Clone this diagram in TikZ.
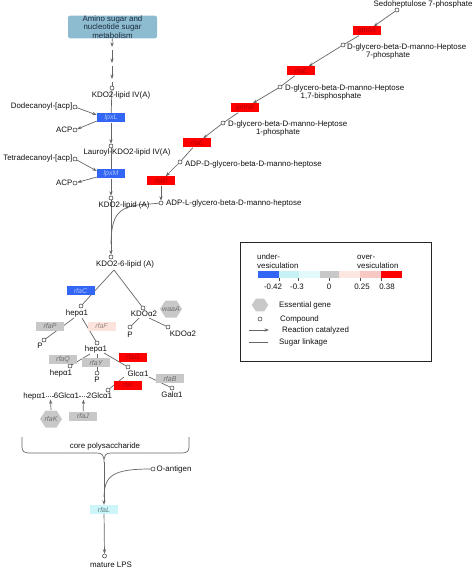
\documentclass[tikz,border=0pt]{standalone}
\usepackage{fontspec}
\setmainfont{Liberation Sans}
\usetikzlibrary{arrows.meta}
\definecolor{lnc}{HTML}{666666}
\definecolor{cpdc}{HTML}{333333}
\definecolor{bluef}{HTML}{3366F5}
\definecolor{bluet}{HTML}{A8C4FF}
\definecolor{redf}{HTML}{FF0000}
\definecolor{redt}{HTML}{B00000}
\definecolor{grayf}{HTML}{C8C8C8}
\definecolor{grayt}{HTML}{6E6E6E}
\definecolor{pinkf}{HTML}{FCE3DC}
\definecolor{pinkt}{HTML}{9A8A86}
\definecolor{cyanf}{HTML}{CCF6FA}
\definecolor{cyant}{HTML}{5A7D80}
\definecolor{topf}{HTML}{8DBBD0}
\definecolor{topt}{HTML}{1B2B3B}
\definecolor{cyanA}{HTML}{C6F2F6}
\definecolor{cyanB}{HTML}{E2FAFC}
\definecolor{pinkA}{HTML}{FCE6E2}
\definecolor{pinkB}{HTML}{F8C8C4}
\definecolor{txt}{HTML}{111111}
\pgfdeclarelayer{bg}
\pgfsetlayers{bg,main}
\tikzset{
 cpd/.style={circle,draw=cpdc,fill=white,line width=0.5pt,inner sep=0pt,minimum size=4pt},
 lbl/.style={inner sep=0pt,text=txt},
 enz/.style={rectangle,inner sep=0pt,minimum width=28pt,minimum height=9pt,font=\fontsize{7}{8}\selectfont\itshape},
 eb/.style={enz,fill=bluef,text=bluet},
 er/.style={enz,fill=redf,text=redt},
 eg/.style={enz,fill=grayf,text=grayt},
 ep/.style={enz,fill=pinkf,text=pinkt},
 ec/.style={enz,fill=cyanf,text=cyant},
 hexlbl/.style={inner sep=0pt,text=grayt,font=\fontsize{7}{8}\selectfont\itshape},
 ln/.style={draw=lnc,line width=0.7pt},
 arr/.style={ln,-{Stealth[length=4.5pt,width=3.2pt]}},
 topbox/.style={fill=topf,rounded corners=2pt,minimum width=89pt,minimum height=20pt,inner sep=0pt,align=center,font=\fontsize{7.9}{6.6}\selectfont,text=topt},
 hexa/.pic={\fill[grayf] (-11,0)--(-5.5,-8.5)--(5.5,-8.5)--(11,0)--(5.5,8.5)--(-5.5,8.5)--cycle;},
}
\begin{document}
\begin{tikzpicture}[x=1pt,y=-1pt,font=\fontsize{7.9}{9}\selectfont]
\useasboundingbox (0,0) rectangle (474,569);

% ---------- left chain ----------
\node[topbox] (amino) at (112.5,27) {Amino sugar and\\nucleotide sugar\\metabolism};
\coordinate (d1b) at (112,47);
\coordinate (d2a) at (112,50); \coordinate (d2b) at (112,63);
\coordinate (d3a) at (112,66); \coordinate (d3b) at (112,79);
\coordinate (d4a) at (112,82);
\node[cpd] (kdoIV) at (112,88) {};
\node[lbl] (kdoIVl) at (121,95) {KDO2-lipid IV(A)};
\node[cpd] (dod) at (75,107) {};
\node[lbl,anchor=east] (dodl) at (72.5,106) {Dodecanoyl-[acp]};
\node[eb] (lpxL) at (111,118) {lpxL};
\node[cpd] (acp1) at (75,130) {};
\node[lbl,anchor=east] (acp1l) at (72.5,130) {ACP};
\node[cpd] (lau) at (111,146) {};
\node[lbl] (laul) at (127,152) {Lauroyl-KDO2-lipid IV(A)};
\node[cpd] (tet) at (75,159) {};
\node[lbl,anchor=east] (tetl) at (72.5,158) {Tetradecanoyl-[acp]};
\node[eb] (lpxM) at (111,174) {lpxM};
\node[cpd] (acp2) at (75,183) {};
\node[lbl,anchor=east] (acp2l) at (72.5,183) {ACP};
\node[cpd] (kdoA) at (111,198) {};
\node[lbl] (kdoAl) at (124,205) {KDO2-lipid (A)};

% ---------- right chain ----------
\node[cpd] (sed) at (397,10) {};
\node[lbl] (sedl) at (423,4) {Sedoheptulose 7-phosphate};
\node[er] (gmhA) at (367,31) {gmhA};
\node[cpd] (h7p) at (343,45) {};
\node[lbl,anchor=west] (h7pl) at (347,47) {D-glycero-beta-D-manno-Heptose};
\node[lbl] (h7pm) at (388,55) {7-phosphate};
\node[er] (rfaE1) at (301,71) {rfaE};
\node[cpd] (h17) at (280,87) {};
\node[lbl,anchor=west] (h17l) at (285,88) {D-glycero-beta-D-manno-Heptose};
\node[lbl] (h17m) at (331,96) {1,7-bisphosphate};
\node[er] (gmhB) at (245,108) {gmhB};
\node[cpd] (h1p) at (223,123) {};
\node[lbl,anchor=west] (h1pl) at (228,124) {D-glycero-beta-D-manno-Heptose};
\node[lbl] (h1pm) at (278,132) {1-phosphate};
\node[er] (rfaE2) at (197,143) {rfaE};
\node[cpd] (adpD) at (180,162) {};
\node[lbl,anchor=west] (adpDl) at (185,164) {ADP-D-glycero-beta-D-manno-heptose};
\node[er] (rfaD) at (161,181) {rfaD};
\node[cpd] (adpL) at (161,203) {};
\node[lbl,anchor=west] (adpLl) at (166,203) {ADP-L-glycero-beta-D-manno-heptose};
\coordinate (adpm) at (150,204);
\coordinate (merge) at (111,244);

% ---------- core ----------
\node[cpd] (kdo6) at (111,257) {};
\node[lbl] (kdo6l) at (125,264) {KDO2-6-lipid (A)};
\coordinate (k6b) at (114,270);
\node[cpd] (hep1) at (81,306) {};
\node[lbl] (hep1l) at (77,313) {hepα1};
\node[cpd] (kdoa) at (143,308) {};
\node[lbl] (kdoal) at (144,314) {KDOα2};
\node[eb] (rfaC) at (80.5,290.5) {rfaC};
\pic at (171,309) {hexa};
\node[hexlbl] (waaA) at (171,309) {waaA};
\coordinate (kb1) at (139,318); \coordinate (kb2) at (149,318);
\node[cpd] (p1) at (130,327) {};
\node[lbl] (p1l) at (130,335) {P};
\node[cpd] (kdoa2) at (168,327) {};
\node[lbl] (kdoa2l) at (183,334) {KDOα2};

\coordinate (hb1) at (74,318); \coordinate (hb2) at (82,318);
\node[cpd] (p2) at (44,340) {};
\node[lbl] (p2l) at (40,346) {P};
\node[eg] (rfaP) at (50,326) {rfaP};
\node[cpd] (hep2) at (97,343) {};
\node[lbl] (hep2l) at (96,349) {hepα1};
\node[ep] (rfaF) at (101.5,326) {rfaF};

\coordinate (h2a) at (90,354); \coordinate (h2b) at (97,354); \coordinate (h2c) at (104,353);
\node[cpd] (hep3) at (70,366) {};
\node[lbl] (hep3l) at (61,373) {hepα1};
\node[eg] (rfaQ) at (63,359.5) {rfaQ};
\node[cpd] (p3) at (97,373) {};
\node[lbl] (p3l) at (97,380) {P};
\node[eg] (rfaY) at (96,362.5) {rfaY};
\node[cpd] (glc) at (128,367) {};
\node[lbl] (glcl) at (138,374) {Glcα1};
\node[er] (rfaG) at (133,357) {rfaG};

\coordinate (ga) at (124,377); \coordinate (gb) at (149,377);
\node[cpd] (gal) at (172,388) {};
\node[lbl] (gall) at (172,395) {Galα1};
\node[eg] (rfaB) at (170,378.5) {rfaB};
\node[cpd] (g2c) at (108,390) {};
\node[er] (rfaI) at (127.5,385) {rfaI};

\node[lbl] (hx) at (34.5,396) {hepα1};
\node[lbl] (g6) at (66.5,396) {6Glcα1};
\node[lbl] (g2) at (99.5,396) {2Glcα1};
\coordinate (s1) at (50.5,399.5); \coordinate (s2) at (83.5,399.5);
\pic at (51,419) {hexa};
\node[hexlbl] (rfaK) at (51,419) {rfaK};
\coordinate (kt) at (51,410);
\node[eg] (rfaJ) at (83,416) {rfaJ};

% brace
\coordinate (tip) at (104,462);
\node[lbl] (core) at (105,446) {core polysaccharide};
\node[ec] (rfaL) at (104,509.5) {rfaL};
\node[cpd] (oant) at (153,469) {};
\node[lbl,anchor=west] (oantl) at (156.5,469) {O-antigen};
\coordinate (omerge) at (104,497);
\node[cpd] (mlps) at (104.5,556) {};
\node[lbl] (mlpsl) at (111,565) {mature LPS};

% ---------- edges ----------
\begin{pgfonlayer}{bg}
\draw[arr] (amino) -- (d1b);
\draw[arr] (d2a) -- (d2b);
\draw[arr] (d3a) -- (d3b);
\draw[ln] (d4a) -- (kdoIV);
\draw[ln] (kdoIV) -- (lpxL);
\draw[arr] (dod) -- (lpxL.168);
\draw[arr] (lpxL.192) -- (acp1);
\draw[arr] (lpxL) -- (lau);
\draw[ln] (lau) -- (lpxM);
\draw[arr] (tet) -- (lpxM.168);
\draw[arr] (lpxM.192) -- (acp2);
\draw[arr] (lpxM) -- (kdoA);
\draw[arr] (kdoA) -- (kdo6);
\draw[ln] (adpL) -- (adpm) .. controls (118,205) and (111.5,214) .. (merge);

\draw[arr] (sed) -- (gmhA);
\draw[ln] (gmhA) -- (h7p);
\draw[arr] (h7p) -- (rfaE1);
\draw[ln] (rfaE1) -- (h17);
\draw[arr] (h17) -- (gmhB);
\draw[ln] (gmhB) -- (h1p);
\draw[arr] (h1p) -- (rfaE2);
\draw[ln] (rfaE2) -- (adpD);
\draw[arr] (adpD) -- (rfaD);
\draw[arr] (rfaD) -- (adpL);

\draw[ln] (k6b) -- (hep1);
\draw[ln] (k6b) -- (kdoa);
\draw[ln] (kb1) -- (p1);
\draw[ln] (kb2) -- (kdoa2);
\draw[ln] (hb1) -- (p2);
\draw[ln] (hb2) -- (hep2);
\draw[ln] (h2a) -- (hep3);
\draw[ln] (h2b) -- (p3);
\draw[ln] (h2c) -- (glc);
\draw[ln] (ga) -- (g2c);
\draw[ln] (gb) -- (gal);
\draw[ln,dash pattern=on 1.2pt off 1pt] (hx.east) -- (g6.west);
\draw[ln,dash pattern=on 1.2pt off 1pt] (g6.east) -- (g2.west);
\draw[arr] (kt) -- (s1);
\draw[arr] (rfaJ) -- (s2);

\draw[ln] (22,437) -- (22,447) .. controls (22,451) and (24,453) .. (29,453) -- (97,453)
  .. controls (102,453) and (104,455) .. (tip)
  .. controls (104,455) and (106,453) .. (111,453) -- (182,453)
  .. controls (187,453) and (189,451) .. (189,447) -- (189,437);
\draw[arr] (tip) -- (rfaL);
\draw[ln] (oant) .. controls (112,469) and (104.5,476) .. (omerge);
\draw[arr] (rfaL) -- (mlps);
\end{pgfonlayer}

% ---------- legend ----------
\draw[draw=black!85,line width=0.8pt] (240,242) rectangle (431,361);
\node[lbl,anchor=west] (lu1) at (257,257) {under-};
\node[lbl,anchor=west] (lu2) at (257,266) {vesiculation};
\node[lbl,anchor=west] (lo1) at (357,257) {over-};
\node[lbl,anchor=west] (lo2) at (357,266) {vesiculation};
\fill[bluef] (258,271) rectangle (279,278);
\fill[cyanA] (279,271) rectangle (299,278);
\fill[cyanB] (299,271) rectangle (320,278);
\fill[grayf] (320,271) rectangle (339,278);
\fill[pinkA] (339,271) rectangle (360,278);
\fill[pinkB] (360,271) rectangle (381,278);
\fill[redf] (381,271) rectangle (402,278);
\foreach \tx in {279,298,329,360,381} \draw[black!70,line width=0.5pt] (\tx,278) -- (\tx,281);
\node[lbl] (t1) at (273,287) {-0.42};
\node[lbl] (t2) at (297,287) {-0.3};
\node[lbl] (t3) at (329,287) {0};
\node[lbl] (t4) at (362,287) {0.25};
\node[lbl] (t5) at (387,287) {0.38};
\pic[scale=0.75] at (260,305) {hexa};
\node[lbl,anchor=west] (le1) at (279,305.5) {Essential gene};
\node[cpd] (lc) at (260,319) {};
\node[lbl,anchor=west] (le2) at (280,319) {Compound};
\coordinate (la1) at (249,330); \coordinate (la2) at (269,330);
\draw[arr,line width=0.6pt] (la1) -- (la2);
\node[lbl,anchor=west] (le3) at (282,330) {Reaction catalyzed};
\coordinate (ll1) at (249,342); \coordinate (ll2) at (268,342);
\draw[ln] (ll1) -- (ll2);
\node[lbl,anchor=west] (le4) at (279,342) {Sugar linkage};
\end{tikzpicture}
\end{document}
